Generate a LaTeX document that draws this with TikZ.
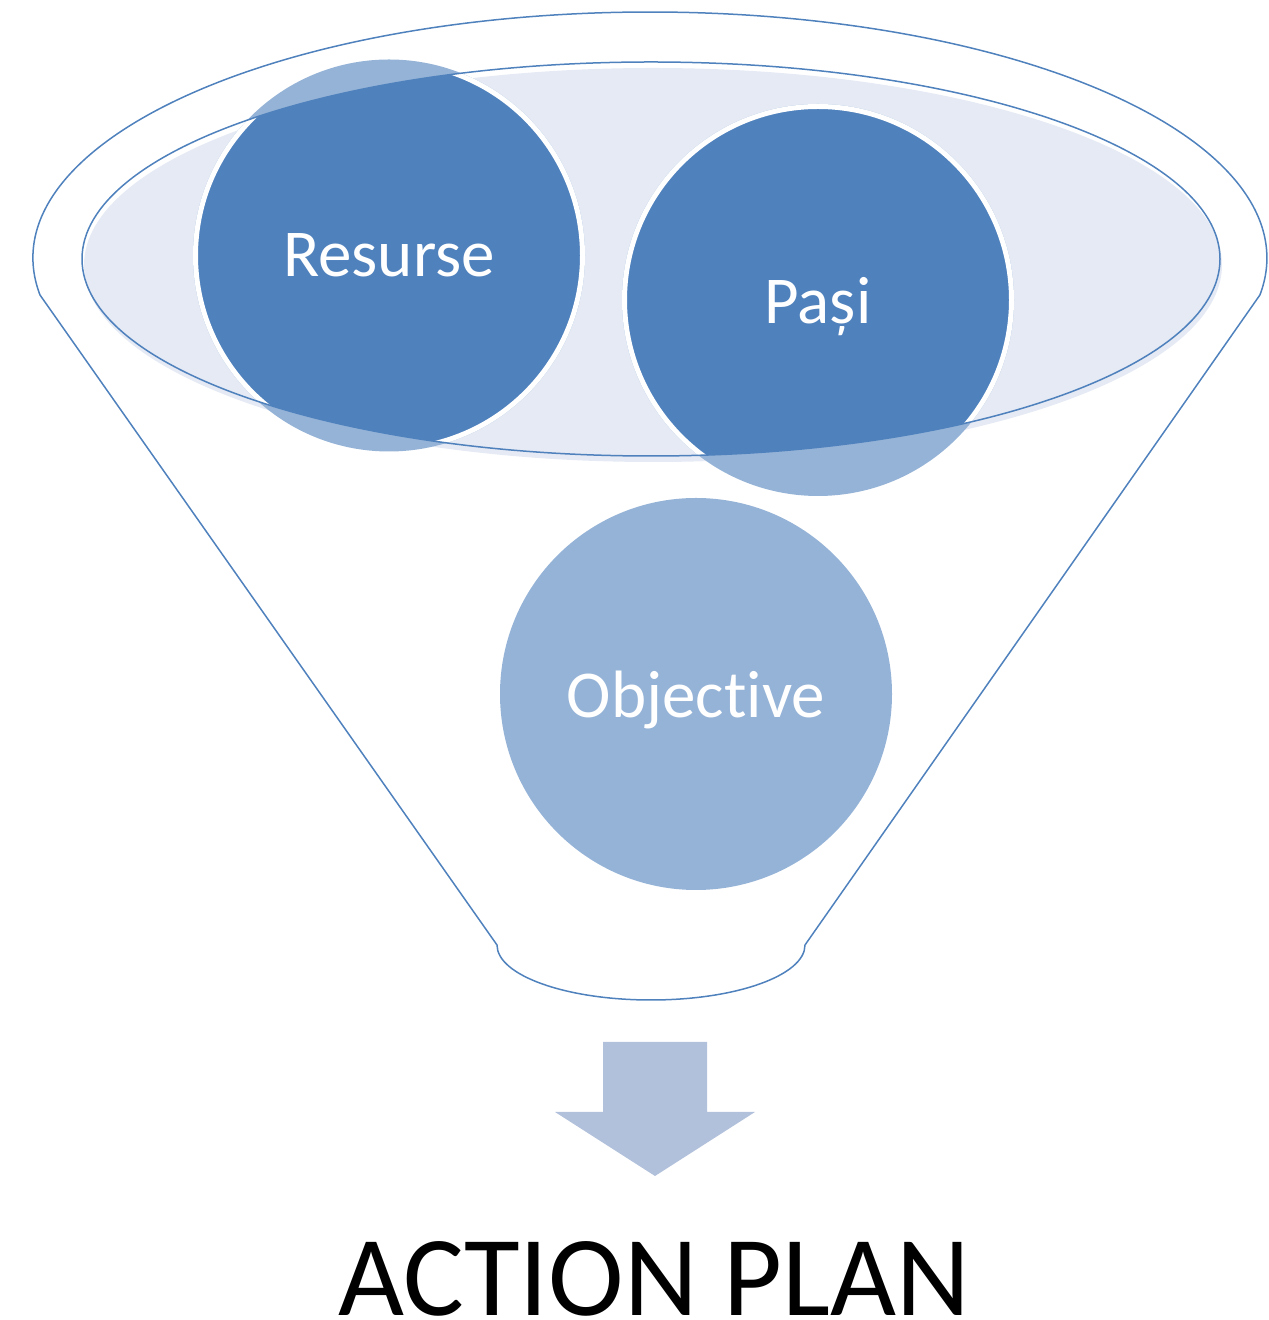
\documentclass[tikz,border=0pt]{standalone}
\usepackage{fontspec}
\setmainfont{Carlito}[Ligatures=NoCommon]
\definecolor{funnelblue}{RGB}{79,129,189}
\definecolor{paleblue}{RGB}{149,179,215}
\definecolor{rimfill}{RGB}{229,234,244}
\definecolor{arrowblue}{RGB}{178,193,219}
\begin{document}
\begin{tikzpicture}[x=1pt,y=1pt,
    item/.style={circle, inner sep=0pt, text=white, text depth=0pt, font=\fontsize{67}{80}\selectfont},
    lowitem/.style={item, minimum size=392pt, fill=paleblue},
    topitem/.style={item, minimum size=387pt, fill=funnelblue, draw=white, line width=5pt},
    rimline/.style={draw=funnelblue, line width=1.5pt}]
  \useasboundingbox (0,0) rectangle (1269,1320);
  \coordinate (rim) at (651,1061);
  % funnel outline
  \draw[rimline] (497,375) -- (40,1025) arc[start angle=188.65, end angle=-8.65, x radius=617, y radius=246]
    -- (805,375) arc[start angle=0, end angle=-180, x radius=154, y radius=55] -- cycle;
  \fill[rimfill] (653,1055) ellipse[x radius=569, y radius=197];
  % circles, pale where they stick out of the rim
  \node[lowitem] (res) at (389,1064.5) {};
  \node[lowitem] (pasi) at (818,1020) {};
  \node[lowitem] (obj) at (696,626) {Objective};
  \begin{scope}
    \clip (rim) ellipse[x radius=569, y radius=197];
    \node[topitem] at (res) {Resurse};
    \node[topitem] at (pasi) {Pași};
  \end{scope}
  \draw[rimline] (rim) ellipse[x radius=569, y radius=197];
  % arrow and title
  \fill[arrowblue] (603,278) -- (707,278) -- (707,208) -- (755,208) -- (655,144) -- (555,208) -- (603,208) -- cycle;
  \node[anchor=base, font=\fontsize{114}{130}\selectfont] (plan) at (654,5) {ACTION PLAN};
\end{tikzpicture}
\end{document}
